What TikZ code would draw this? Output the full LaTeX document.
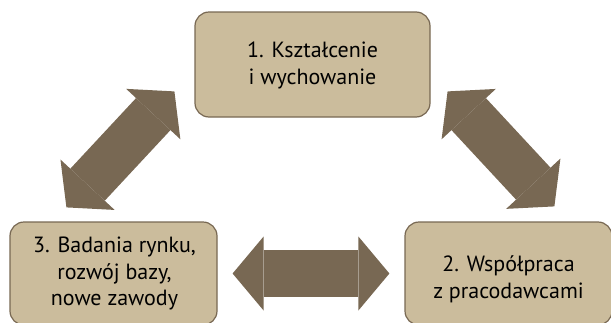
\documentclass[tikz,border=0pt]{standalone}
\usepackage{fontspec}
\setmainfont{PT Sans}
\usetikzlibrary{arrows.meta,calc}
\definecolor{boxfill}{HTML}{CBBC9C}
\definecolor{arrowbrown}{HTML}{786853}
\tikzset{
  box/.style={draw=arrowbrown, line width=0.6pt, fill=boxfill, rounded corners=7pt},
  boxtext/.style={align=center, inner sep=0pt, font=\fontsize{11}{13.4}\selectfont},
  bigarrow/.style={draw=arrowbrown, line width=23.5pt, {Triangle[length=15.5pt,width=37pt,line width=0pt]}-{Triangle[length=15.5pt,width=37pt,line width=0pt]}}
}

\begin{document}
\begin{tikzpicture}[x=0.5pt,y=-0.5pt]
\useasboundingbox (0,0) rectangle (611,322);

\node [box, minimum width=117.5pt, minimum height=52.5pt] (edu) at (312.5,64.5) {};
\node [box, minimum width=103.5pt, minimum height=51.5pt] (coop) at (508.5,273.5) {};
\node [box, minimum width=103.5pt, minimum height=51.5pt] (research) at (113.5,273.5) {};

\node [boxtext] (edutext) at ($(edu)+(0,1)$) {1. Kształcenie\\i wychowanie};
\node [boxtext] (cooptext) at ($(coop)+(0,6)$) {2. Współpraca\\z pracodawcami};
\node [boxtext] (researchtext) at ($(research)+(1,0)$) {3. Badania rynku,\\rozwój bazy,\\nowe zawody};

\coordinate (r1) at ($(research.north west)+(57,-14)$);
\coordinate (e1) at ($(edu.north west)+(-20,80)$);
\coordinate (e2) at ($(edu.north east)+(17,80)$);
\coordinate (c1) at ($(coop.north west)+(150,-15)$);
\coordinate (r2) at ($(research.east)+(15,0)$);
\coordinate (c2) at ($(coop.west)+(-15,0)$);

\draw [bigarrow] (r1) -- (e1);
\draw [bigarrow] (e2) -- (c1);
\draw [bigarrow] (r2) -- (c2);
\end{tikzpicture}
\end{document}
